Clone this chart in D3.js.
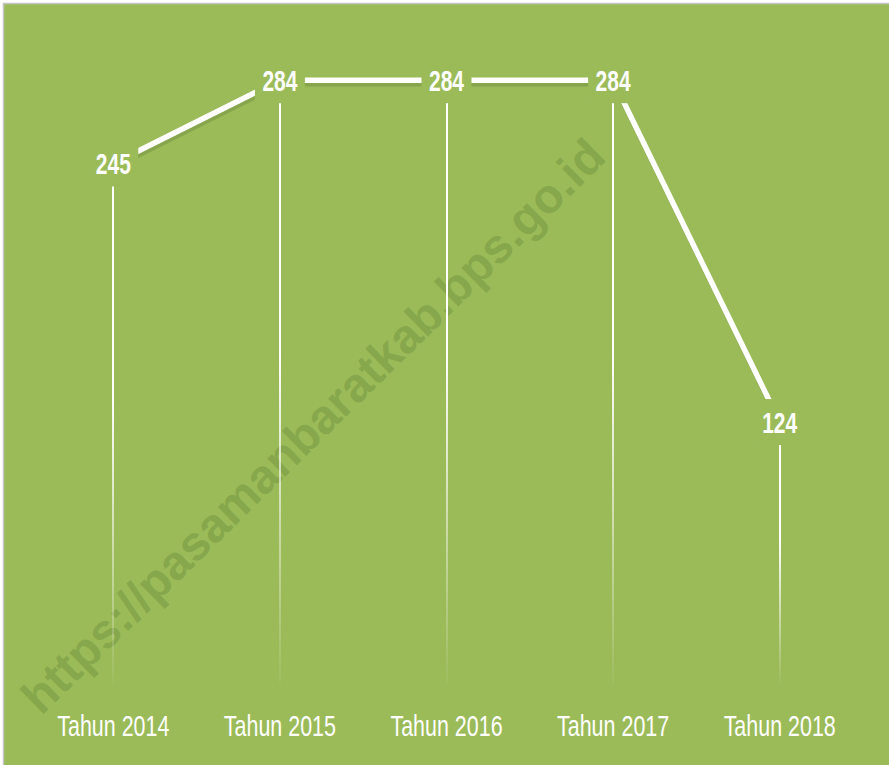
<!DOCTYPE html>
<html>
<head>
<meta charset="utf-8">
<script src="https://cdn.jsdelivr.net/npm/d3@7"></script>
<style>
  html, body { margin: 0; padding: 0; background: #ffffff; }
  svg { display: block; }
</style>
</head>
<body>
<svg id="chart" width="889" height="765"></svg>
<script>
const categories = ["Tahun 2014", "Tahun 2015", "Tahun 2016", "Tahun 2017", "Tahun 2018"];
const values = [245, 284, 284, 284, 124];
const yDomain = [0, 300];
const watermarkText = "https://pasamanbaratkab.bps.go.id";

const W = 889, H = 765;
const bg = "#9BBB59";
const svg = d3.select("#chart");

// background
svg.append("rect").attr("x", 3.5).attr("y", 3.5).attr("width", W).attr("height", H)
  .attr("fill", bg).attr("stroke", "#c4c4c4").attr("stroke-width", 1.5);

const x = d3.scalePoint().domain(categories).range([30, 863]).padding(0.5);
const y = d3.scaleLinear().domain(yDomain).range([687, 46]);

const data = categories.map((c, i) => ({ c, v: values[i] }));

// watermark
svg.append("text")
  .attr("transform", "translate(313,426) rotate(-44.5)")
  .attr("text-anchor", "middle")
  .attr("dominant-baseline", "central")
  .attr("font-family", "'Liberation Sans', Arial, sans-serif")
  .attr("font-weight", "bold")
  .attr("font-size", 48)
  .attr("fill", "#86a74b")
  .text(watermarkText);

// gradient for drop lines
const defs = svg.append("defs");
const grad = defs.append("linearGradient").attr("id", "dropGrad")
  .attr("x1", 0).attr("y1", 0).attr("x2", 0).attr("y2", 1);
grad.append("stop").attr("offset", "0").attr("stop-color", "#fff").attr("stop-opacity", 1);
grad.append("stop").attr("offset", "0.45").attr("stop-color", "#fff").attr("stop-opacity", 1);
grad.append("stop").attr("offset", "1").attr("stop-color", "#fff").attr("stop-opacity", 0.03);

// drop lines
svg.append("g").selectAll("rect").data(data).join("rect")
  .attr("x", d => Math.round(x(d.c)) - 1)
  .attr("y", d => y(d.v))
  .attr("width", 2)
  .attr("height", d => y(0) - 4 - y(d.v))
  .attr("fill", "url(#dropGrad)");

// line with shadow
const line = d3.line().x(d => x(d.c)).y(d => y(d.v));
svg.append("path").datum(data)
  .attr("d", line)
  .attr("transform", "translate(1,4)")
  .attr("fill", "none")
  .attr("stroke", "#7a9842")
  .attr("stroke-opacity", 0.6)
  .attr("stroke-width", 4.5);
svg.append("path").datum(data)
  .attr("d", line)
  .attr("fill", "none")
  .attr("stroke", "#ffffff")
  .attr("stroke-width", 5.5);

// data labels with background boxes
const lbl = svg.append("g").selectAll("g").data(data).join("g")
  .attr("transform", d => `translate(${x(d.c)},${y(d.v)})`);
lbl.append("rect")
  .attr("x", -25).attr("y", -23).attr("width", 50).attr("height", 46)
  .attr("fill", bg);
lbl.append("text")
  .attr("transform", "scale(0.7,1)")
  .attr("y", 10.5)
  .attr("text-anchor", "middle")
  .attr("font-family", "'Liberation Sans', Arial, sans-serif")
  .attr("font-weight", "bold")
  .attr("font-size", 30)
  .attr("fill", "#ffffff")
  .text(d => d.v);

// x axis labels
svg.append("g").selectAll("text").data(categories).join("text")
  .attr("transform", d => `translate(${x(d)},736) scale(0.74,1)`)
  .attr("text-anchor", "middle")
  .attr("font-family", "'Liberation Sans', Arial, sans-serif")
  .attr("font-size", 29)
  .attr("fill", "#ffffff")
  .text(d => d);
</script>
</body>
</html>
